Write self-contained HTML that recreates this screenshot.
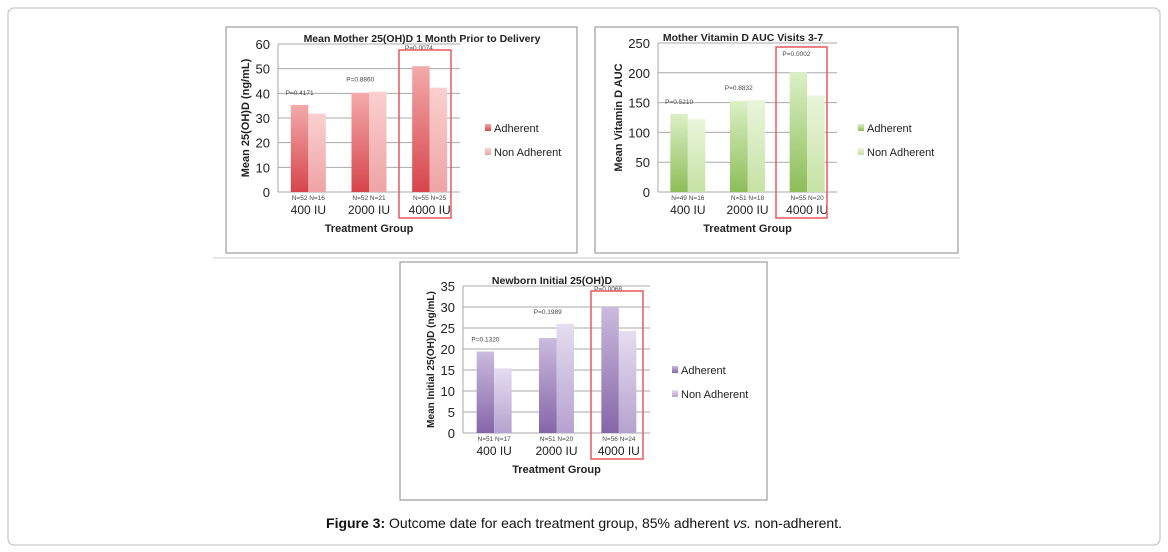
<!DOCTYPE html>
<html><head><meta charset="utf-8"><style>
body{margin:0;background:#fff;font-family:"Liberation Sans",sans-serif}
svg{display:block}
</style></head><body>
<svg id="s" width="1168" height="552" xmlns="http://www.w3.org/2000/svg">
<defs>
<linearGradient id="rA" x1="0" y1="1" x2="0" y2="0"><stop offset="0" stop-color="#d6454b"/><stop offset="1" stop-color="#f4aaab"/></linearGradient>
<linearGradient id="rN" x1="0" y1="1" x2="0" y2="0"><stop offset="0" stop-color="#eea3a5"/><stop offset="1" stop-color="#fbd0d0"/></linearGradient>
<linearGradient id="gA" x1="0" y1="1" x2="0" y2="0"><stop offset="0" stop-color="#8dbd58"/><stop offset="1" stop-color="#dcf0c6"/></linearGradient>
<linearGradient id="gN" x1="0" y1="1" x2="0" y2="0"><stop offset="0" stop-color="#c6e2a4"/><stop offset="1" stop-color="#e9f5db"/></linearGradient>
<linearGradient id="pA" x1="0" y1="1" x2="0" y2="0"><stop offset="0" stop-color="#8566a8"/><stop offset="1" stop-color="#cbbbde"/></linearGradient>
<linearGradient id="pN" x1="0" y1="1" x2="0" y2="0"><stop offset="0" stop-color="#b6a2cf"/><stop offset="1" stop-color="#e5ddf0"/></linearGradient>
</defs>
<rect x="8" y="8" width="1152" height="537" rx="6" fill="none" stroke="#bbb"/>
<line x1="213" y1="258" x2="960" y2="258" stroke="#ccc"/>
<text x="584" y="528" font-size="14" text-anchor="middle" fill="#111"><tspan font-weight="bold">Figure 3:</tspan> Outcome date for each treatment group, 85% adherent <tspan font-style="italic">vs.</tspan> non-adherent.</text>
<g id="c1"></g><g id="c2"></g><g id="c3"></g>
</svg>
<script>
const categories=["400 IU","2000 IU","4000 IU"];
const motherAdh=[35.3,40.2,51];
const motherNon=[31.8,40.7,42.3];
const motherN=[["N=52","N=16"],["N=52","N=21"],["N=55","N=25"]];
const motherP=["P=0.4171","P=0.8860","P=0.0074"];
const motherTicks=[0,10,20,30,40,50,60];
const aucAdh=[131,153,201];
const aucNon=[122,154,162];
const aucN=[["N=49","N=16"],["N=51","N=18"],["N=55","N=20"]];
const aucP=["P=0.5210","P=0.8832","P=0.0002"];
const aucTicks=[0,50,100,150,200,250];
const newbornAdh=[19.4,22.6,30];
const newbornNon=[15.4,26,24.3];
const newbornN=[["N=51","N=17"],["N=51","N=20"],["N=56","N=24"]];
const newbornP=["P=0.1320","P=0.1989","P=0.0068"];
const newbornTicks=[0,5,10,15,20,25,30,35];
const NS="http://www.w3.org/2000/svg";
function mk(parent,tag,attrs,txt){const e=document.createElementNS(NS,tag);for(const k in attrs)e.setAttribute(k,attrs[k]);if(txt!=null)e.textContent=txt;parent.appendChild(e);return e;}
function chart(g,o){
  const box=mk(g,'rect',{x:o.bx,y:o.by,width:o.bw,height:o.bh,fill:'#fff',stroke:'#888'});
  
  
  const max=o.ticks[o.ticks.length-1];
  const y=v=>o.y0-(v/max)*(o.y0-o.yTop);
  const gw=(o.xR-o.x0)/categories.length;
  const bw=17.5;
  o.ticks.forEach(t=>{
    const l=mk(g,'line',{x1:o.x0,x2:o.xR,y1:y(t),y2:y(t),stroke:'#aaa','stroke-width':1});
    
    
    const tx=mk(g,'text',{x:o.x0-8,y:y(t)+5,'font-size':13,'text-anchor':'end',fill:'#222'},t);
    
    
  });
  const ax=mk(g,'line',{x1:o.x0,x2:o.x0,y1:o.yTop,y2:o.y0,stroke:'#aaa'});
  
  
  categories.forEach((c,i)=>{
    const cx=o.x0+gw*(i+0.5);
    const b1=mk(g,'rect',{x:cx-bw,y:y(o.adh[i]),width:bw,height:o.y0-y(o.adh[i]),fill:'url(#'+o.pre+'A)'});
    
    
    const b2=mk(g,'rect',{x:cx,y:y(o.non[i]),width:bw,height:o.y0-y(o.non[i]),fill:'url(#'+o.pre+'N)'});
    
    
    const n1=mk(g,'text',{x:cx-bw/2,y:o.y0+8,'font-size':6.5,'text-anchor':'middle',fill:'#444'},o.n[i][0]);
    
    
    const n2=mk(g,'text',{x:cx+bw/2,y:o.y0+8,'font-size':6.5,'text-anchor':'middle',fill:'#444'},o.n[i][1]);
    
    
    const cl=mk(g,'text',{x:cx,y:o.y0+22,'font-size':12,'text-anchor':'middle',fill:'#222'},c);
    
    
    const top=Math.max(o.adh[i],o.non[i]);
    const p=mk(g,'text',{x:cx-bw/2+(i==2?-2:0),y:y(top)-(i==2?16:10),'font-size':6.5,'text-anchor':'middle',fill:'#444'},o.p[i]);
    
    
  });
  const hb=mk(g,'rect',{x:o.hx,y:o.hy,width:o.hw,height:o.hh,fill:'none',stroke:'#e8585c','stroke-width':1.5});
  
  
  const ti=mk(g,'text',{x:o.tx,y:o.yTop-2,'font-size':10.5,'font-weight':'bold','text-anchor':'middle',fill:'#222'},o.title);
  
  
  const xt=mk(g,'text',{x:(o.x0+o.xR)/2,y:o.y0+40,'font-size':11,'font-weight':'bold','text-anchor':'middle',fill:'#222'},'Treatment Group');
  
  
  const yt=mk(g,'text',{x:0,y:0,'font-size':o.ytSize,'font-weight':'bold','text-anchor':'middle',fill:'#222',transform:'translate('+o.ytx+','+(o.y0+o.yTop)/2+') rotate(-90)'},o.ytitle);
  
  
  [['A','Adherent'],['N','Non Adherent']].forEach((L,j)=>{
    const sw=mk(g,'rect',{x:o.lx,y:o.ly+24*j-5,width:6,height:7,fill:'url(#'+o.pre+L[0]+')'});
    
    
    const lt=mk(g,'text',{x:o.lx+9,y:o.ly+24*j+3,'font-size':11,fill:'#222'},L[1]);
    
    
  });
}
chart(document.getElementById('c1'),{bx:226,by:27,bw:351,bh:226,x0:278,xR:460,y0:192,yTop:44,ticks:motherTicks,adh:motherAdh,non:motherNon,n:motherN,p:motherP,pre:'r',hx:399,hy:50,hw:52,hh:168,tx:422,title:'Mean Mother 25(OH)D 1 Month Prior to Delivery',ytitle:'Mean 25(OH)D (ng/mL)',ytx:249,ytSize:11,lx:485,ly:129});
chart(document.getElementById('c2'),{bx:595,by:27,bw:363,bh:226,x0:658,xR:837,y0:192,yTop:43,ticks:aucTicks,adh:aucAdh,non:aucNon,n:aucN,p:aucP,pre:'g',hx:776,hy:47,hw:51,hh:171,tx:743,title:'Mother Vitamin D AUC Visits 3-7',ytitle:'Mean Vitamin D AUC',ytx:622,ytSize:11,lx:858,ly:129});
chart(document.getElementById('c3'),{bx:400,by:262,bw:367,bh:238,x0:463,xR:650,y0:433,yTop:286,ticks:newbornTicks,adh:newbornAdh,non:newbornNon,n:newbornN,p:newbornP,pre:'p',hx:591,hy:291,hw:52,hh:168,tx:552,title:'Newborn Initial 25(OH)D',ytitle:'Mean Initial 25(OH)D (ng/mL)',ytx:434,ytSize:10,lx:672,ly:371});
</script>
</body></html>
